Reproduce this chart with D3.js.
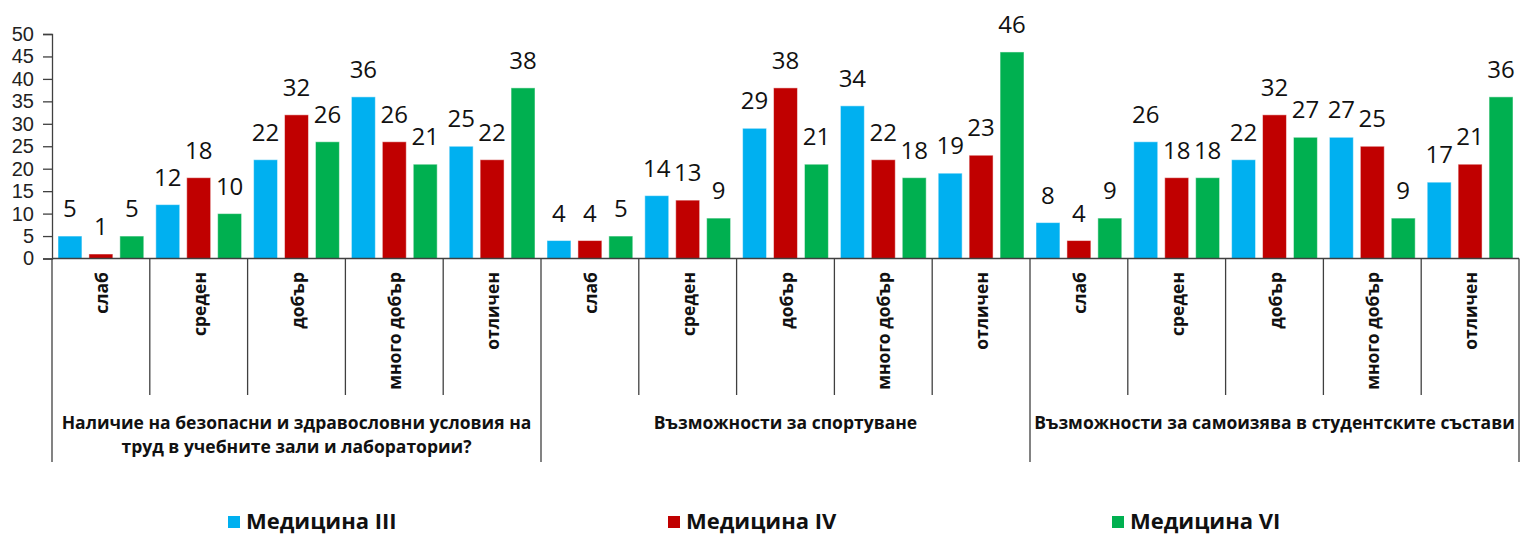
<!DOCTYPE html>
<html lang="bg">
<head>
<meta charset="utf-8">
<title>Оценка по групи</title>
<script src="https://d3js.org/d3.v7.min.js"></script>
<style>
  body { margin: 0; background: #fff; }
  svg { display: block; }
</style>
</head>
<body>
<script>

// ---- data ----
var groups = ["Наличие на безопасни и здравословни условия на|труд в учебните зали и лаборатории?",
              "Възможности за спортуване",
              "Възможности за самоизява в студентските състави"];
var grades = ["слаб", "среден", "добър", "много добър", "отличен"];
var seriesNames = ["Медицина III", "Медицина IV", "Медицина VI"];
var med3 = [5, 12, 22, 36, 25,   4, 14, 29, 34, 19,   8, 26, 22, 27, 17];
var med4 = [1, 18, 32, 26, 22,   4, 13, 38, 22, 23,   4, 18, 32, 25, 21];
var med6 = [5, 10, 26, 21, 38,   5,  9, 21, 18, 46,   9, 18, 27,  9, 36];
var yTicks = [0, 5, 10, 15, 20, 25, 30, 35, 40, 45, 50];

var colors = ["#00B0F0", "#C00000", "#00B050"];
var series = [med3, med4, med6];

var W = 1521, H = 538;
var left = 52, right = 1519, yTop = 34, base = 258.5;

var svg = d3.select("body").append("svg")
    .attr("width", W)
    .attr("height", H);

// one slot per (group, grade)
var cats = [];
groups.forEach(function(g, gi) {
  grades.forEach(function(c, ci) { cats.push({g: gi, c: ci, key: gi + "-" + ci, label: c}); });
});

var x0 = d3.scaleBand()
    .domain(cats.map(function(d) { return d.key; }))
    .range([left, right]);

var x1 = d3.scaleBand()
    .domain([0, 1, 2])
    .range([0, x0.bandwidth()])
    .paddingInner(0.226)
    .paddingOuter(0.194);

var y = d3.scaleLinear()
    .domain([0, 50])
    .range([base, yTop]);

// y axis
var yAxis = svg.append("g")
    .attr("transform", "translate(" + left + ",0)")
    .call(d3.axisLeft(y).tickValues(yTicks).tickSize(9).tickPadding(9));
yAxis.select(".domain").attr("stroke", "#404040").attr("stroke-width", 1.3);
yAxis.selectAll(".tick line").attr("stroke", "#404040").attr("stroke-width", 1.3);
yAxis.selectAll("text")
    .attr("font-family", "Liberation Sans, Arial, sans-serif")
    .attr("font-size", "20px")
    .attr("fill", "#222");

// bars
var slot = svg.append("g").selectAll("g")
    .data(cats)
    .enter().append("g")
    .attr("transform", function(d) { return "translate(" + x0(d.key) + ",0)"; });

var bars = slot.selectAll("rect")
    .data(function(d, i) { return series.map(function(s, si) { return {si: si, v: s[i]}; }); })
    .enter();

bars.append("rect")
    .attr("x", function(d) { return x1(d.si); })
    .attr("y", function(d) { return y(d.v); })
    .attr("width", x1.bandwidth())
    .attr("height", function(d) { return base - y(d.v); })
    .attr("fill", function(d) { return colors[d.si]; })
    .attr("stroke", "#ffffff")
    .attr("stroke-opacity", 0.5)
    .attr("stroke-width", 1);

bars.append("text")
    .attr("x", function(d) { return x1(d.si) + x1.bandwidth() / 2; })
    .attr("y", function(d) { return y(d.v) - 19; })
    .attr("text-anchor", "middle")
    .attr("font-family", "Open Sans, sans-serif")
    .attr("font-size", "24px")
    .attr("fill", "#111")
    .text(function(d) { return d.v; });

// x axis baseline + separators
var axisG = svg.append("g").attr("stroke", "#404040").attr("stroke-width", 1.3);
axisG.append("line")
    .attr("x1", left).attr("x2", right)
    .attr("y1", base).attr("y2", base);

var bounds = d3.range(cats.length + 1);
axisG.selectAll(".sep")
    .data(bounds)
    .enter().append("line")
    .attr("x1", function(i) { return i < cats.length ? x0(cats[i].key) : right; })
    .attr("x2", function(i) { return i < cats.length ? x0(cats[i].key) : right; })
    .attr("y1", base)
    .attr("y2", function(i) { return i % grades.length === 0 ? 462 : 395; });

// grade labels (rotated)
svg.append("g").selectAll("text")
    .data(cats)
    .enter().append("text")
    .attr("transform", function(d) {
      return "translate(" + (x0(d.key) + x0.bandwidth() / 2 + 7) + ",272) rotate(-90)";
    })
    .attr("text-anchor", "end")
    .attr("font-family", "Open Sans, sans-serif")
    .attr("font-weight", "bold")
    .attr("font-size", "17.5px")
    .attr("fill", "#111")
    .text(function(d) { return d.label; });

// group labels
var gw = x0.bandwidth() * grades.length;
groups.forEach(function(g, gi) {
  var lines = g.split("|");
  var t = svg.append("text")
      .attr("x", left + gw * gi + gw / 2)
      .attr("y", 429)
      .attr("text-anchor", "middle")
      .attr("font-family", "Open Sans, sans-serif")
      .attr("font-weight", "bold")
      .attr("font-size", "17.5px")
      .attr("fill", "#111");
  lines.forEach(function(l, li) {
    t.append("tspan")
      .attr("x", left + gw * gi + gw / 2)
      .attr("dy", li === 0 ? 0 : 24)
      .text(l);
  });
});

// legend
var legX = [228, 668, 1112];
var leg = svg.append("g").selectAll("g")
    .data(seriesNames)
    .enter().append("g")
    .attr("transform", function(d, i) { return "translate(" + legX[i] + ",516)"; });
leg.append("rect")
    .attr("width", 12).attr("height", 12)
    .attr("fill", function(d, i) { return colors[i]; });
leg.append("text")
    .attr("x", 18)
    .attr("y", 13)
    .attr("font-family", "Open Sans, sans-serif")
    .attr("font-weight", "bold")
    .attr("font-size", "22px")
    .attr("fill", "#111")
    .text(function(d) { return d; });

</script>
</body>
</html>
